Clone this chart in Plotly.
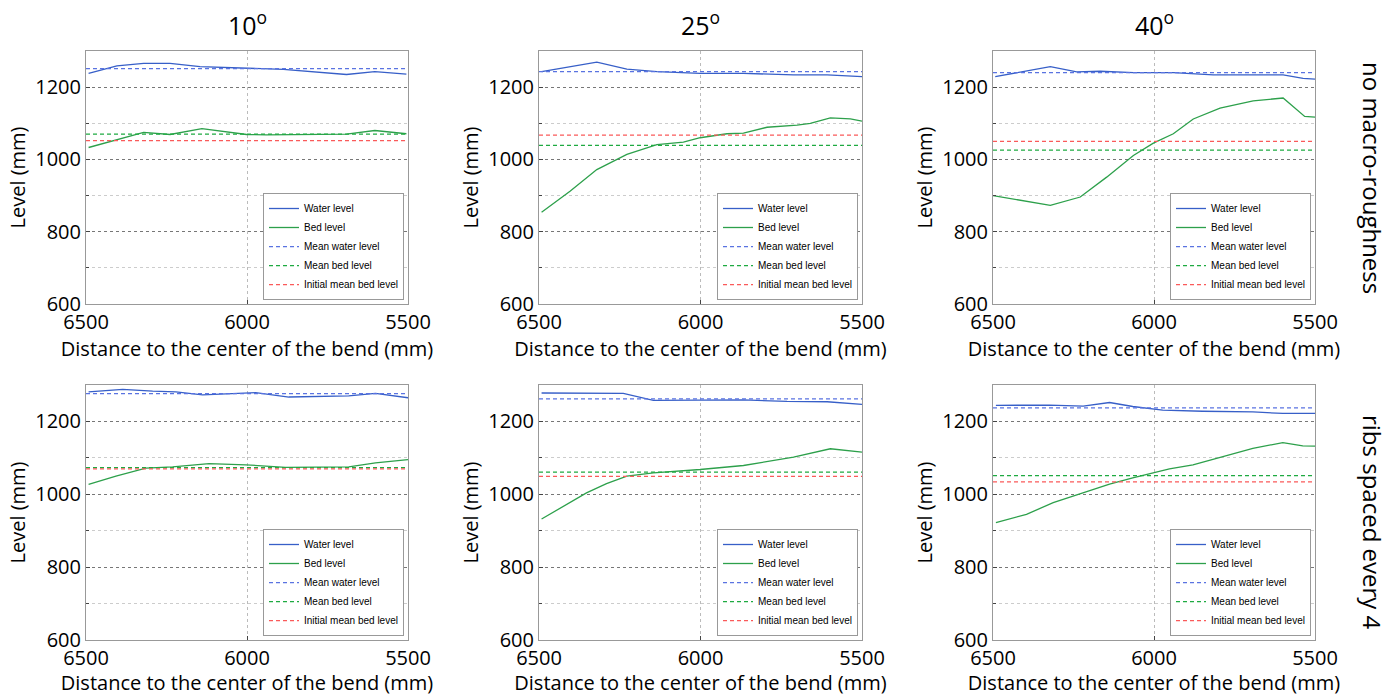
import plotly.graph_objects as go

angles = ["10", "25", "40"]
row_labels = ["no macro-roughness", "ribs spaced every 4"]
x_label = "Distance to the center of the bend (mm)"
y_label = "Level (mm)"
series_names = ["Water level", "Bed level", "Mean water level", "Mean bed level", "Initial mean bed level"]
x_limits = [6500, 5500]

# no macro-roughness, 10 deg
nm10_water_x = [6492, 6404, 6321, 6239, 6146, 6001, 5887, 5691, 5603, 5505]
nm10_water = [1238, 1259, 1266, 1266, 1257, 1252, 1249, 1235, 1243, 1236]
nm10_bed_x = [6492, 6404, 6321, 6239, 6140, 6001, 5940, 5691, 5603, 5505]
nm10_bed = [1033, 1054, 1075, 1069, 1085, 1069, 1068, 1070, 1080, 1071]
nm10_means = [1251, 1070, 1052]

# no macro-roughness, 25 deg
nm25_water_x = [6492, 6404, 6321, 6228, 6135, 6001, 5867, 5712, 5608, 5500]
nm25_water = [1243, 1256, 1269, 1250, 1243, 1238, 1238, 1234, 1234, 1229]
nm25_bed_x = [6492, 6404, 6321, 6228, 6135, 6053, 6001, 5918, 5867, 5794, 5701, 5660, 5598, 5536, 5500]
nm25_bed = [854, 912, 972, 1014, 1041, 1048, 1060, 1071, 1073, 1089, 1095, 1100, 1115, 1112, 1106]
nm25_means = [1243, 1039, 1067]

# no macro-roughness, 40 deg
nm40_water_x = [6493, 6415, 6322, 6240, 6167, 6064, 5940, 5816, 5692, 5599, 5537, 5500]
nm40_water = [1229, 1241, 1257, 1242, 1244, 1240, 1240, 1234, 1234, 1234, 1224, 1222]
nm40_bed_x = [6500, 6415, 6322, 6229, 6147, 6064, 6002, 5940, 5878, 5795, 5692, 5599, 5532, 5500]
nm40_bed = [900, 887, 873, 896, 951, 1011, 1045, 1071, 1112, 1142, 1162, 1170, 1119, 1117]
nm40_means = [1240, 1026, 1050]

# ribs spaced every 4, 10 deg
rb10_water_x = [6492, 6386, 6293, 6221, 6138, 6076, 5973, 5870, 5777, 5684, 5601, 5500]
rb10_water = [1281, 1288, 1283, 1281, 1273, 1276, 1279, 1267, 1268, 1270, 1277, 1265]
rb10_bed_x = [6492, 6407, 6314, 6231, 6118, 6004, 5880, 5684, 5601, 5500]
rb10_bed = [1027, 1050, 1072, 1075, 1084, 1081, 1074, 1075, 1086, 1095]
rb10_means = [1276, 1073, 1070]

# ribs spaced every 4, 25 deg
rb25_water_x = [6492, 6353, 6239, 6146, 6001, 5867, 5732, 5608, 5500]
rb25_water = [1278, 1277, 1277, 1258, 1259, 1259, 1255, 1254, 1247]
rb25_bed_x = [6492, 6425, 6353, 6291, 6228, 6146, 6001, 5867, 5712, 5598, 5500]
rb25_bed = [932, 967, 1004, 1029, 1050, 1059, 1068, 1079, 1102, 1125, 1116]
rb25_means = [1262, 1061, 1049]

# ribs spaced every 4, 40 deg
rb40_water_x = [6491, 6324, 6220, 6138, 6066, 5973, 5849, 5693, 5600, 5500]
rb40_water = [1244, 1245, 1242, 1252, 1241, 1231, 1228, 1226, 1222, 1222]
rb40_bed_x = [6491, 6396, 6313, 6210, 6138, 6066, 6003, 5952, 5879, 5797, 5693, 5600, 5538, 5500]
rb40_bed = [922, 945, 977, 1008, 1028, 1045, 1058, 1070, 1081, 1101, 1126, 1142, 1133, 1132]
rb40_means = [1237, 1051, 1034]

panels = [
    (nm10_water_x, nm10_water, nm10_bed_x, nm10_bed, nm10_means),
    (nm25_water_x, nm25_water, nm25_bed_x, nm25_bed, nm25_means),
    (nm40_water_x, nm40_water, nm40_bed_x, nm40_bed, nm40_means),
    (rb10_water_x, rb10_water, rb10_bed_x, rb10_bed, rb10_means),
    (rb25_water_x, rb25_water, rb25_bed_x, rb25_bed, rb25_means),
    (rb40_water_x, rb40_water, rb40_bed_x, rb40_bed, rb40_means),
]

W, H = 1396, 696
col_px = [(86, 408), (539, 862), (993, 1315)]
row_px = [(51, 304), (385, 640)]

blue = "rgb(55,95,200)"
green = "rgb(45,160,75)"
mean_colors = ["rgb(90,115,225)", "rgb(30,170,65)", "rgb(250,90,90)"]

fig = go.Figure()
layout = dict(
    width=W, height=H,
    margin=dict(l=0, r=0, t=0, b=0),
    paper_bgcolor="white", plot_bgcolor="white",
    font=dict(family="Open Sans", size=18, color="black"),
    annotations=[],
)

for i, (wx, wy, bx, by, means) in enumerate(panels):
    r, c = divmod(i, 3)
    n = "" if i == 0 else str(i + 1)
    xa, ya = "x" + n, "y" + n
    leg = "legend" + n
    x0, x1 = col_px[c][0] / W, col_px[c][1] / W
    y0, y1 = 1 - row_px[r][1] / H, 1 - row_px[r][0] / H

    fig.add_trace(go.Scatter(x=wx, y=wy, mode="lines", name=series_names[0],
                             line=dict(color=blue, width=1.3), xaxis=xa, yaxis=ya, legend=leg))
    fig.add_trace(go.Scatter(x=bx, y=by, mode="lines", name=series_names[1],
                             line=dict(color=green, width=1.3), xaxis=xa, yaxis=ya, legend=leg))
    for k, m in enumerate(means):
        fig.add_trace(go.Scatter(x=x_limits, y=[m, m], mode="lines", name=series_names[2 + k],
                                 line=dict(color=mean_colors[k], width=1.25, dash="4px,3px"),
                                 xaxis=xa, yaxis=ya, legend=leg))

    layout["xaxis" + n] = dict(
        domain=[x0, x1], anchor=ya, range=x_limits, tick0=5500, dtick=500,
        showgrid=True, gridcolor="#bbb", griddash="dot", gridwidth=1,
        showline=True, mirror=True, linecolor="#999", linewidth=1,
        ticks="inside", ticklen=4, tickcolor="#444", zeroline=False,
        tickfont=dict(size=20), automargin=False,
        title=dict(text=x_label, font=dict(size=20), standoff=0),
    )
    layout["yaxis" + n] = dict(
        domain=[y0, y1], anchor=xa, range=[600, 1300], tick0=600, dtick=200,
        showgrid=True, gridcolor="#777", griddash="dot", gridwidth=1,
        minor=dict(dtick=100, tick0=600, showgrid=True, gridcolor="#ccc", griddash="dot",
                   ticks="inside", ticklen=3, tickcolor="#444"),
        showline=True, mirror=True, linecolor="#999", linewidth=1,
        ticks="inside", ticklen=4, tickcolor="#444", zeroline=False,
        tickfont=dict(size=20), ticklabelstandoff=0, automargin=False,
        title=dict(text=y_label, font=dict(size=20), standoff=4),
    )
    layout[leg] = dict(
        x=x1 - 4 / W, y=y0 + 4 / H, xanchor="right", yanchor="bottom",
        bgcolor="white", bordercolor="#999", borderwidth=1,
        font=dict(family="Liberation Sans", size=10),
        tracegroupgap=0, itemwidth=30,
    )

for c, a in enumerate(angles):
    layout["annotations"].append(dict(
        text=a + "<sup>o</sup>", x=sum(col_px[c]) / 2 / W, y=1 - 24 / H,
        xref="paper", yref="paper", showarrow=False, font=dict(size=25),
        xanchor="center", yanchor="middle"))

for r, lab in enumerate(row_labels):
    layout["annotations"].append(dict(
        text=lab, x=1373 / W, y=1 - (178 if r == 0 else 522) / H,
        xref="paper", yref="paper", showarrow=False, textangle=90,
        font=dict(size=24), xanchor="center", yanchor="middle"))

fig.update_layout(**layout)
fig.write_html("out.html", config={"displayModeBar": False},
               post_script="document.body.style.margin = '0';")
